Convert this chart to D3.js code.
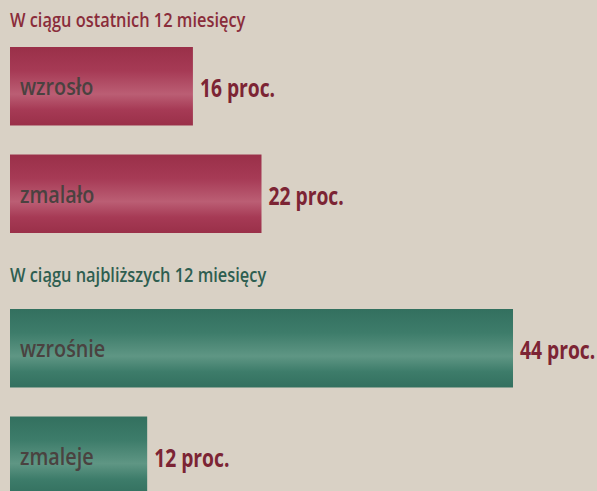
<!DOCTYPE html>
<html>
<head>
<meta charset="utf-8">
<script src="https://cdn.jsdelivr.net/npm/d3@7"></script>
<style>
  html, body { margin: 0; padding: 0; background: #d9d1c5; }
  svg { display: block; }
  text { font-family: "Open Sans", sans-serif; }
</style>
</head>
<body>
<div id="app"></div>
<script>
const width = 597;
const height = 491;

// data
const groupTitles = ["W ciągu ostatnich 12 miesięcy", "W ciągu najbliższych 12 miesięcy"];
const pastLabels = ["wzrosło", "zmalało"];
const pastValues = [16, 22];
const nextLabels = ["wzrośnie", "zmaleje"];
const nextValues = [44, 12];
const unit = "proc.";

const groups = [
  { title: groupTitles[0], labels: pastLabels, values: pastValues },
  { title: groupTitles[1], labels: nextLabels, values: nextValues }
];

const palette = [
  { dark: "#9a3049", mid: "#a63a55", light: "#bb5e74", title: "#8a2c3a" },
  { dark: "#33705f", mid: "#3d7c6a", light: "#5f9684", title: "#2e5e50" }
];
const valueColor = "#7c2434";

const left = 10;
const titleY = [27, 282];
const groupTop = [0, 262];
const condense = 0.82;

document.getElementById("app").innerHTML = `<svg width="${width}" height="${height}"></svg>`;
const svg = d3.select("svg");

svg.append("rect").attr("width", width).attr("height", height).attr("fill", "#d9d1c5");

const x = d3.scaleLinear()
  .domain([0, d3.max([...pastValues, ...nextValues])])
  .range([0, 503]);

const y = d3.scaleBand()
  .domain([0, 1])
  .range([47, 233])
  .paddingInner(0.27)
  .paddingOuter(0);

const defs = svg.append("defs");
palette.forEach((p, i) => {
  const g = defs.append("linearGradient")
    .attr("id", `grad-${i}`)
    .attr("x1", 0).attr("y1", 0).attr("x2", 0).attr("y2", 1);
  [[0, p.dark], [0.3, p.mid], [0.6, p.light], [0.8, p.mid], [1, p.dark]].forEach(([o, c]) => {
    g.append("stop").attr("offset", o).attr("stop-color", c);
  });
});

const group = svg.selectAll("g.group")
  .data(groups)
  .enter()
  .append("g")
  .attr("class", "group");

group.append("text")
  .attr("transform", (d, i) => `translate(${left},${titleY[i]}) scale(${condense},1)`)
  .attr("font-size", 20)
  .attr("font-weight", 600)
  .attr("fill", (d, i) => palette[i].title)
  .text(d => d.title);

const bar = group.selectAll("g.bar")
  .data((d, gi) => d.values.map((v, j) => ({ v, label: d.labels[j], j, gi })))
  .enter()
  .append("g")
  .attr("class", "bar")
  .attr("transform", d => `translate(0,${groupTop[d.gi]})`);

bar.append("rect")
  .attr("x", left)
  .attr("y", d => y(d.j))
  .attr("width", d => x(d.v))
  .attr("height", y.bandwidth())
  .attr("fill", d => `url(#grad-${d.gi})`);

bar.append("text")
  .attr("transform", d => `translate(${left + 10},${y(d.j) + 48}) scale(0.86,1)`)
  .attr("font-size", 23)
  .attr("font-weight", 600)
  .attr("fill", "#4a4240")
  .text(d => d.label);

bar.append("text")
  .attr("transform", d => `translate(${left + x(d.v) + 7},${y(d.j) + 50}) scale(0.77,1)`)
  .attr("font-size", 25)
  .attr("font-weight", "bold")
  .attr("fill", valueColor)
  .text(d => `${d.v} ${unit}`);
</script>
</body>
</html>
